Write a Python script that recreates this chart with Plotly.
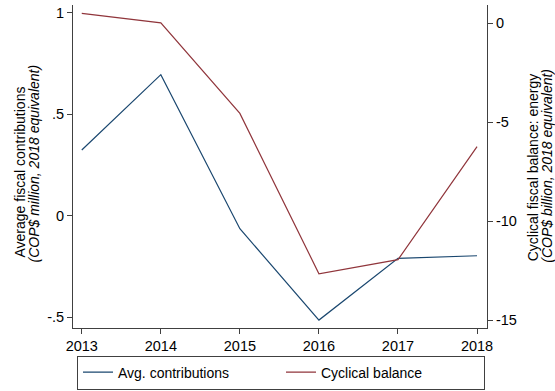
import plotly.graph_objects as go

years = [2013, 2014, 2015, 2016, 2017, 2018]
avg_contrib = [0.324, 0.695, -0.064, -0.514, -0.21, -0.197]
cyc_balance = [0.5, 0.02, -4.55, -12.65, -11.94, -6.23]
left_ticks = [1, 0.5, 0, -0.5]
left_labels = ["1", ".5", "0", "-.5"]
right_ticks = [0, -5, -10, -15]
right_labels = ["0", "-5", "-10", "-15"]
left_title = ["Average fiscal contributions", "<i>(COP$ million, 2018 equivalent)</i>"]
right_title = ["Cyclical fiscal balance: energy", "<i>(COP$ billion, 2018 equivalent)</i>"]

blue = "#1a476f"
red = "#90353b"
axcol = "#404040"
font = "Liberation Sans, Arial, sans-serif"
fs = 14.5
tfs = 14

ML, MR, MT, MB = 72.5, 68.3, 5, 63
W, H = 555, 391
PW = W - ML - MR
PH = H - MT - MB


def px_x(p):
    return (p - ML) / PW


def px_y(p):
    return (H - MB - p) / PH


fig = go.Figure()
fig.add_trace(go.Scatter(x=years, y=avg_contrib, mode="lines", name="Avg. contributions",
                         line=dict(color=blue, width=1.2), yaxis="y"))
fig.add_trace(go.Scatter(x=years, y=cyc_balance, mode="lines", name="Cyclical balance",
                         line=dict(color=red, width=1.2), yaxis="y2"))

annots = []
for txt, xp, yp in [(left_title[0], 19, 172), (left_title[1], 33, 164),
                    (right_title[0], 533, 167), (right_title[1], 546.5, 166)]:
    annots.append(dict(text=txt, xref="paper", yref="paper", x=px_x(xp), y=px_y(yp),
                       xanchor="center", yanchor="middle", textangle=-90, showarrow=False,
                       font=dict(size=tfs, family=font, color="black")))

fig.update_layout(
    width=W, height=H,
    margin=dict(l=ML, r=MR, t=MT, b=MB, autoexpand=False),
    paper_bgcolor="white", plot_bgcolor="white",
    font=dict(family=font, size=fs, color="black"),
    annotations=annots,
    xaxis=dict(range=[2012.889, 2018.126], tickvals=years, ticktext=[str(y) for y in years],
               showline=True, linecolor=axcol, linewidth=1, ticks="outside", ticklen=5,
               tickcolor=axcol, showgrid=False, zeroline=False, tickfont=dict(size=fs),
               automargin=False),
    yaxis=dict(range=[-0.553, 1.038], tickvals=left_ticks, ticktext=left_labels,
               showline=True, linecolor=axcol, linewidth=1, ticks="outside", ticklen=5,
               tickcolor=axcol, showgrid=False, zeroline=False, tickfont=dict(size=fs),
               automargin=False),
    yaxis2=dict(range=[-15.39, 0.925], tickvals=right_ticks, ticktext=right_labels,
                overlaying="y", side="right",
                showline=True, linecolor=axcol, linewidth=1, ticks="outside", ticklen=5,
                tickcolor=axcol, showgrid=False, zeroline=False, tickfont=dict(size=fs),
                automargin=False),
    legend=dict(orientation="h", xref="container", yref="container",
                x=281 / W, xanchor="center", y=1 - 389.5 / H, yanchor="bottom",
                bordercolor=axcol, borderwidth=1, font=dict(size=14),
                entrywidth=158, entrywidthmode="pixels"),
)

fig.write_html("out.html")
